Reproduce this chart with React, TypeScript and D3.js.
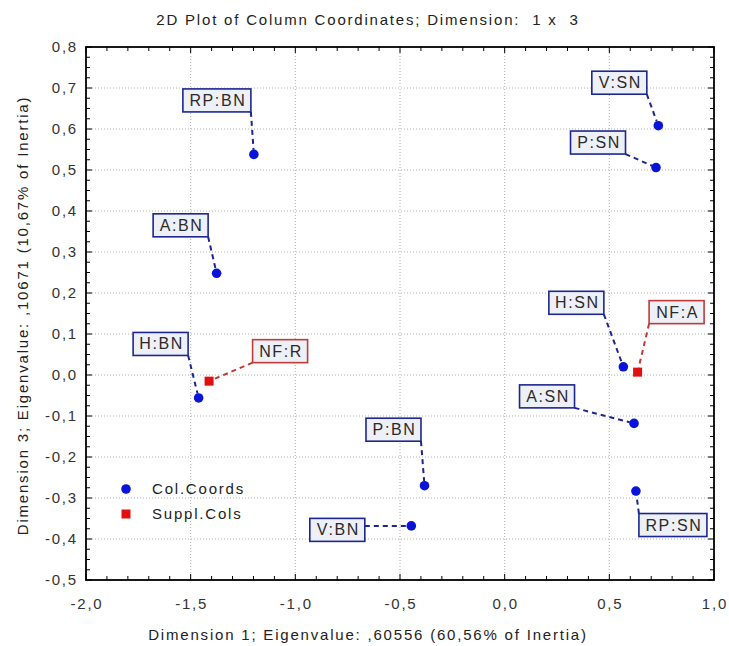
import React from "react";
import * as d3 from "d3";

const titleText = "2D Plot of Column Coordinates; Dimension:  1 x  3";
const xAxisTitle = "Dimension 1; Eigenvalue: ,60556 (60,56% of Inertia)";
const yAxisTitle = "Dimension 3; Eigenvalue: ,10671 (10,67% of Inertia)";

const colNames = ["RP:BN", "A:BN", "H:BN", "P:BN", "V:BN", "V:SN", "P:SN", "H:SN", "A:SN", "RP:SN"];
const colX = [-1.198, -1.376, -1.462, -0.383, -0.446, 0.734, 0.723, 0.567, 0.618, 0.627];
const colY = [0.538, 0.248, -0.056, -0.27, -0.368, 0.608, 0.506, 0.02, -0.118, -0.283];

const supplNames = ["NF:R", "NF:A"];
const supplX = [-1.412, 0.635];
const supplY = [-0.015, 0.007];

const legendLabels = ["Col.Coords", "Suppl.Cols"];

const xTicks = [-2.0, -1.5, -1.0, -0.5, 0.0, 0.5, 1.0];
const yTicks = [0.8, 0.7, 0.6, 0.5, 0.4, 0.3, 0.2, 0.1, 0.0, -0.1, -0.2, -0.3, -0.4, -0.5];

// label box offsets (layout, px) relative to the point
const colLabelOffsets = [
  [-37, -54], [-36, -48], [-38, -54], [-31, -56], [-74, 4],
  [-39, -43], [-58, -25], [-47, -64], [-87, -27], [37, 34],
];
const supplLabelOffsets = [[71, -30], [39, -60]];

const W = 729, H = 646;
const left = 86, right = 714, top = 47, bottom = 580;
const FONT = "Arial, 'Liberation Sans', sans-serif";
const FS = 15;
const LS = 1.8;

const fmt = (v: number) => v.toFixed(1).replace(".", ",").replace("-0,0", "0,0");

function Label({ px, py, off, text, stroke, r }: any) {
  const w = text.length >= 5 ? 68 : 55;
  const h = 23;
  const cx = px + off[0], cy = py + off[1];
  const x0 = cx - w / 2, y0 = cy - h / 2;
  const nx = Math.max(x0, Math.min(x0 + w, px));
  const ny = Math.max(y0, Math.min(y0 + h, py));
  const dx = px - nx, dy = py - ny;
  const len = Math.hypot(dx, dy) || 1;
  const ex = px - (dx / len) * r, ey = py - (dy / len) * r;
  return (
    <g>
      <line x1={nx} y1={ny} x2={ex} y2={ey} stroke={stroke} strokeWidth={2} strokeDasharray="5,4" />
      <rect x={x0} y={y0} width={w} height={h} fill="#eef0f7" stroke={stroke} strokeWidth={1.6} />
      <text x={cx + 1} y={cy + 5.5} textAnchor="middle" fontSize={16} letterSpacing={1.6} fontFamily={FONT} fill="#2a2a2a">{text}</text>
    </g>
  );
}

export default function App() {
  const x = d3.scaleLinear().domain([-2, 1]).range([left, right]);
  const y = d3.scaleLinear().domain([-0.5, 0.8]).range([bottom, top]);

  const xMinor = d3.range(-2, 1.0001, 0.1);
  const yMinor = d3.range(-0.5, 0.8001, 0.025);

  const blue = "#0a14d8";
  const blueLine = "#1c2690";
  const red = "#e01010";
  const redLine = "#c03a3a";

  const txt = { fontSize: FS, fontFamily: FONT, letterSpacing: LS, style: { whiteSpace: "pre" as const } };

  return (
    <svg width={W} height={H} style={{ position: "absolute", left: 0, top: 0, background: "#fff" }}>
      <rect x={0} y={0} width={W} height={H} fill="#fff" />
      <text x={368} y={25} textAnchor="middle" fill="#222" {...txt}>{titleText}</text>

      {/* grid */}
      {xTicks.slice(1, -1).map((t, i) => (
        <line key={"gx" + i} x1={x(t)} x2={x(t)} y1={top} y2={bottom} stroke="#b0b0b0" strokeWidth={1} strokeDasharray="1,2" />
      ))}
      {yTicks.slice(1, -1).map((t, i) => (
        <line key={"gy" + i} x1={left} x2={right} y1={y(t)} y2={y(t)} stroke="#b0b0b0" strokeWidth={1} strokeDasharray="1,2" />
      ))}

      {/* ticks */}
      {xMinor.map((t, i) => {
        const major = Math.abs(t * 2 - Math.round(t * 2)) < 1e-6;
        const L = major ? 6 : 4;
        return (
          <g key={"xm" + i}>
            <line x1={x(t)} x2={x(t)} y1={bottom} y2={bottom - L} stroke="#000" strokeWidth={1} />
            <line x1={x(t)} x2={x(t)} y1={top} y2={top + L} stroke="#000" strokeWidth={1} />
          </g>
        );
      })}
      {yMinor.map((t, i) => {
        const major = Math.abs(t * 10 - Math.round(t * 10)) < 1e-6;
        const L = major ? 6 : 4;
        return (
          <g key={"ym" + i}>
            <line x1={left} x2={left + L} y1={y(t)} y2={y(t)} stroke="#000" strokeWidth={1} />
            <line x1={right} x2={right - L} y1={y(t)} y2={y(t)} stroke="#000" strokeWidth={1} />
          </g>
        );
      })}

      <rect x={left} y={top} width={right - left} height={bottom - top} fill="none" stroke="#000" strokeWidth={1.8} />

      {/* tick labels */}
      {xTicks.map((t, i) => (
        <text key={"xt" + i} x={x(t) + 1} y={609} textAnchor="middle" fill="#333" {...txt}>{fmt(t)}</text>
      ))}
      {yTicks.map((t, i) => (
        <text key={"yt" + i} x={78} y={y(t) + 5} textAnchor="end" fill="#333" {...txt}>{fmt(t)}</text>
      ))}

      <text x={368} y={640} textAnchor="middle" fill="#222" {...txt}>{xAxisTitle}</text>
      <text transform={`translate(28, ${(top + bottom) / 2 + 2}) rotate(-90)`} textAnchor="middle" fill="#222" {...txt}>{yAxisTitle}</text>

      {/* labels + connectors */}
      {colNames.map((n, i) => (
        <Label key={"cl" + i} px={x(colX[i])} py={y(colY[i])} off={colLabelOffsets[i]} text={n} stroke={blueLine} r={4.5} />
      ))}
      {supplNames.map((n, i) => (
        <Label key={"sl" + i} px={x(supplX[i])} py={y(supplY[i])} off={supplLabelOffsets[i]} text={n} stroke={redLine} r={4.5} />
      ))}

      {/* points */}
      {colNames.map((n, i) => (
        <circle key={"c" + i} cx={x(colX[i])} cy={y(colY[i])} r={4.8} fill={blue} />
      ))}
      {supplNames.map((n, i) => (
        <rect key={"s" + i} x={x(supplX[i]) - 4.5} y={y(supplY[i]) - 4.5} width={9} height={9} fill={red} />
      ))}

      {/* legend */}
      <circle cx={126} cy={489} r={4.8} fill={blue} />
      <text x={152} y={494} fill="#222" {...txt}>{legendLabels[0]}</text>
      <rect x={121.5} y={509.5} width={9} height={9} fill={red} />
      <text x={152} y={519} fill="#222" {...txt}>{legendLabels[1]}</text>
    </svg>
  );
}
